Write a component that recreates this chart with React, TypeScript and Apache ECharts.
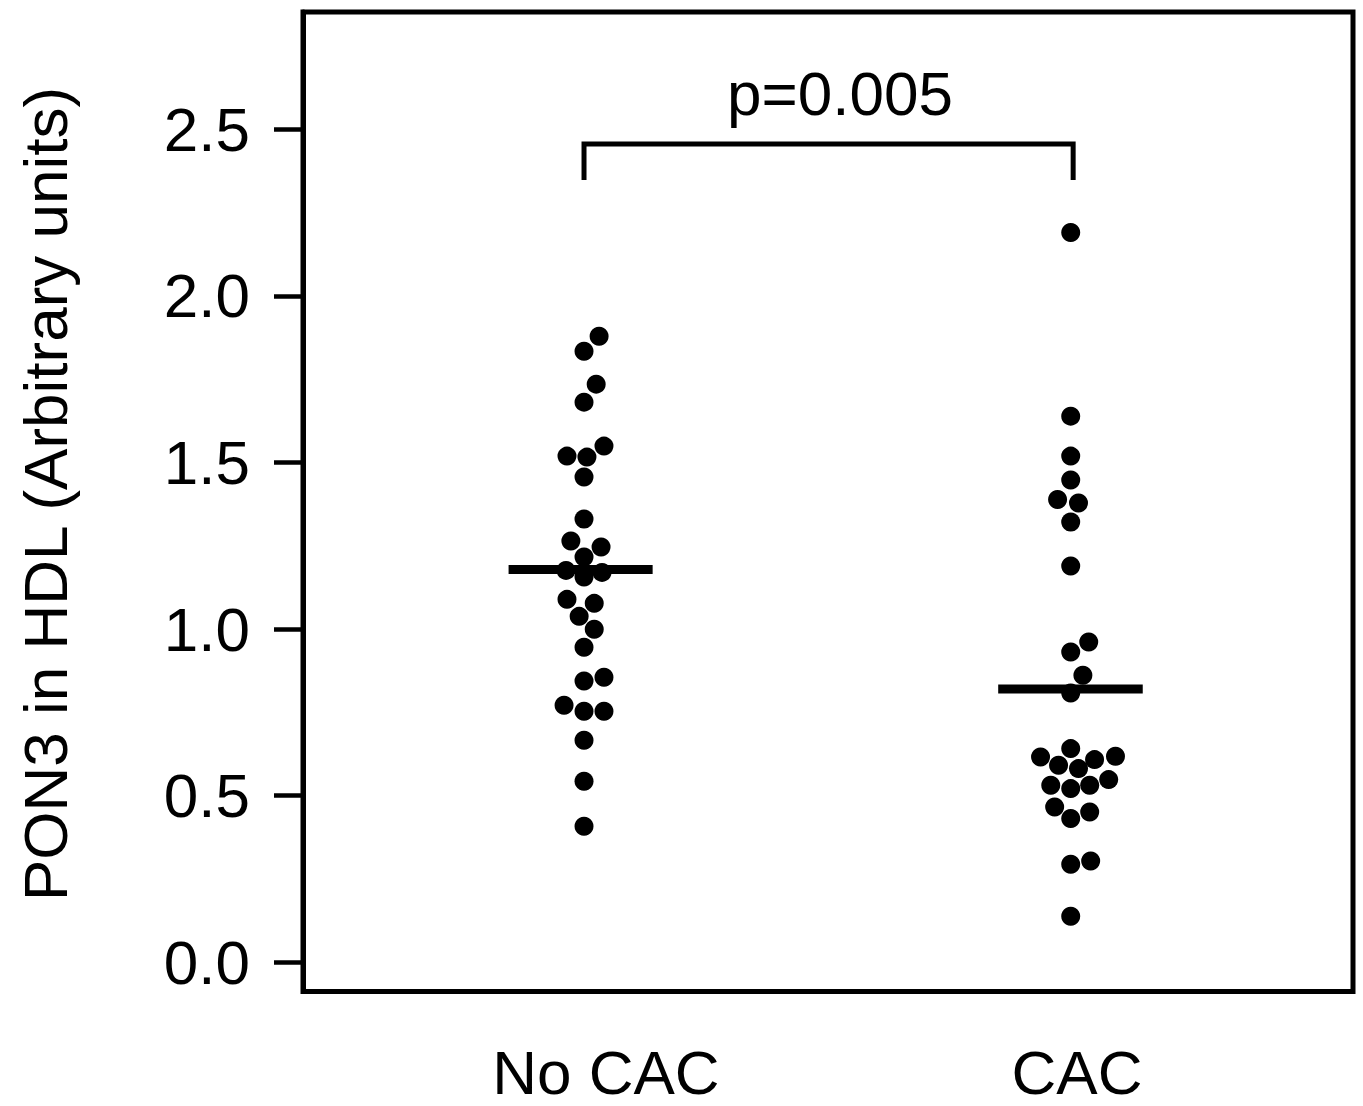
import React, { useEffect, useRef } from "react";
import * as echarts from "echarts";

// ---- data ----
const categories = ["No CAC", "CAC"];
const groupCenters = [1, 2];
const categoryLabelX = [1.045, 2.013];

const noCacValues = [
  1.879, 1.834, 1.735, 1.681, 1.549, 1.519, 1.516, 1.456, 1.33, 1.264, 1.246, 1.216,
  1.176, 1.17, 1.156, 1.089, 1.077, 1.038, 0.999, 0.945, 0.855, 0.844, 0.771, 0.753,
  0.753, 0.666, 0.543, 0.408,
];
const noCacOffsets = [
  0.031, 0, 0.025, 0, 0.041, -0.035, 0.006, 0, 0, -0.027, 0.035, 0,
  -0.037, 0.037, 0, -0.035, 0.021, -0.01, 0.021, 0, 0.041, 0, -0.041, 0,
  0.041, 0, 0, 0,
];

const cacValues = [
  2.19, 1.639, 1.519, 1.447, 1.389, 1.378, 1.321, 1.189, 0.961, 0.931, 0.861, 0.808,
  0.641, 0.616, 0.618, 0.591, 0.608, 0.581, 0.531, 0.521, 0.531, 0.548, 0.466, 0.431,
  0.451, 0.294, 0.304, 0.138,
];
const cacOffsets = [
  0, 0, 0, 0, -0.027, 0.016, 0, 0, 0.037, 0, 0.025, 0,
  0, -0.062, 0.092, -0.025, 0.049, 0.016, -0.041, 0, 0.039, 0.078, -0.033, 0,
  0.039, 0, 0.041, 0,
];

const medianValues = [1.179, 0.82];
const medianLeft = [0.845, 1.851];
const medianRight = [1.141, 2.148];

const bracketX = [1.0, 2.005];
const bracketTop = 2.456;
const bracketBottom = 2.348;
const pText = "p=0.005";
const pTextPos = [1.526, 2.607];

const yTicks = [0, 0.5, 1.0, 1.5, 2.0, 2.5];
const yAxisTitle = "PON3 in HDL (Arbitrary units)";

const FONT = "'Liberation Sans', Arial, Helvetica, sans-serif";
const FS = 62;

export default function App() {
  const ref = useRef<HTMLDivElement>(null);

  useEffect(() => {
    document.body.style.margin = "0";
    if (!ref.current) return;
    const chart = echarts.init(ref.current, null, { renderer: "svg" });

    const groups = [
      { values: noCacValues, offsets: noCacOffsets },
      { values: cacValues, offsets: cacOffsets },
    ];

    const scatterSeries = groups.map((g, gi) => ({
      type: "scatter",
      name: categories[gi],
      symbol: "circle",
      symbolSize: 19,
      itemStyle: { color: "#000", opacity: 1 },
      silent: true,
      z: 3,
      data: g.values.map((v, i) => [groupCenters[gi] + g.offsets[i], v]),
    }));

    const medianSeries = medianValues.map((m, gi) => ({
      type: "line",
      symbol: "none",
      silent: true,
      z: 4,
      lineStyle: { color: "#000", width: 9, cap: "butt" },
      data: [
        [medianLeft[gi], m],
        [medianRight[gi], m],
      ],
    }));

    const bracketSeries = {
      type: "line",
      symbol: "none",
      silent: true,
      z: 4,
      lineStyle: { color: "#000", width: 5, join: "miter", cap: "butt" },
      data: [
        [bracketX[0], bracketBottom],
        [bracketX[0], bracketTop],
        [bracketX[1], bracketTop],
        [bracketX[1], bracketBottom],
      ],
    };

    const nearestIndex = (v: number) => {
      let best = 0;
      categoryLabelX.forEach((x, i) => {
        if (Math.abs(x - v) < Math.abs(categoryLabelX[best] - v)) best = i;
      });
      return best;
    };

    const option: any = {
      animation: false,
      backgroundColor: "#fff",
      textStyle: { fontFamily: FONT },
      grid: {
        left: 303,
        right: 10,
        top: 12,
        bottom: 114.5,
        show: true,
        borderColor: "#000",
        borderWidth: 5,
        backgroundColor: "transparent",
        containLabel: false,
      },
      xAxis: {
        type: "value",
        min: 0.4226,
        max: 2.58,
        axisLine: { show: false },
        axisTick: { show: false },
        splitLine: { show: false },
        axisLabel: {
          show: true,
          customValues: categoryLabelX,
          formatter: (v: number) => categories[nearestIndex(v)],
          fontSize: FS,
          fontFamily: FONT,
          color: "#000",
          margin: 50,
        },
      },
      yAxis: {
        type: "value",
        min: -0.088,
        max: 2.852,
        axisLine: { show: true, lineStyle: { color: "#000", width: 5 } },
        axisTick: {
          show: true,
          customValues: yTicks,
          inside: false,
          length: 29,
          lineStyle: { color: "#000", width: 4.5 },
        },
        splitLine: { show: false },
        axisLabel: {
          show: true,
          customValues: yTicks,
          formatter: (v: number) => v.toFixed(1),
          fontSize: FS,
          fontFamily: FONT,
          color: "#000",
          margin: 53,
        },
      },
      series: [...scatterSeries, ...medianSeries, bracketSeries],
    };

    chart.setOption(option);

    const pPix = chart.convertToPixel({ gridIndex: 0 }, pTextPos) as number[];

    chart.setOption({
      graphic: [
        {
          type: "text",
          x: 45,
          y: 494,
          rotation: Math.PI / 2,
          silent: true,
          style: {
            text: yAxisTitle,
            fontSize: FS,
            fontFamily: FONT,
            fill: "#000",
            textAlign: "center",
            textVerticalAlign: "middle",
          },
        },
        {
          type: "text",
          x: pPix[0],
          y: pPix[1],
          silent: true,
          style: {
            text: pText,
            fontSize: FS,
            fontFamily: FONT,
            fill: "#000",
            textAlign: "center",
            textVerticalAlign: "middle",
          },
        },
      ],
    });

    return () => {
      chart.dispose();
    };
  }, []);

  return <div ref={ref} style={{ width: 1363, height: 1106 }} />;
}
